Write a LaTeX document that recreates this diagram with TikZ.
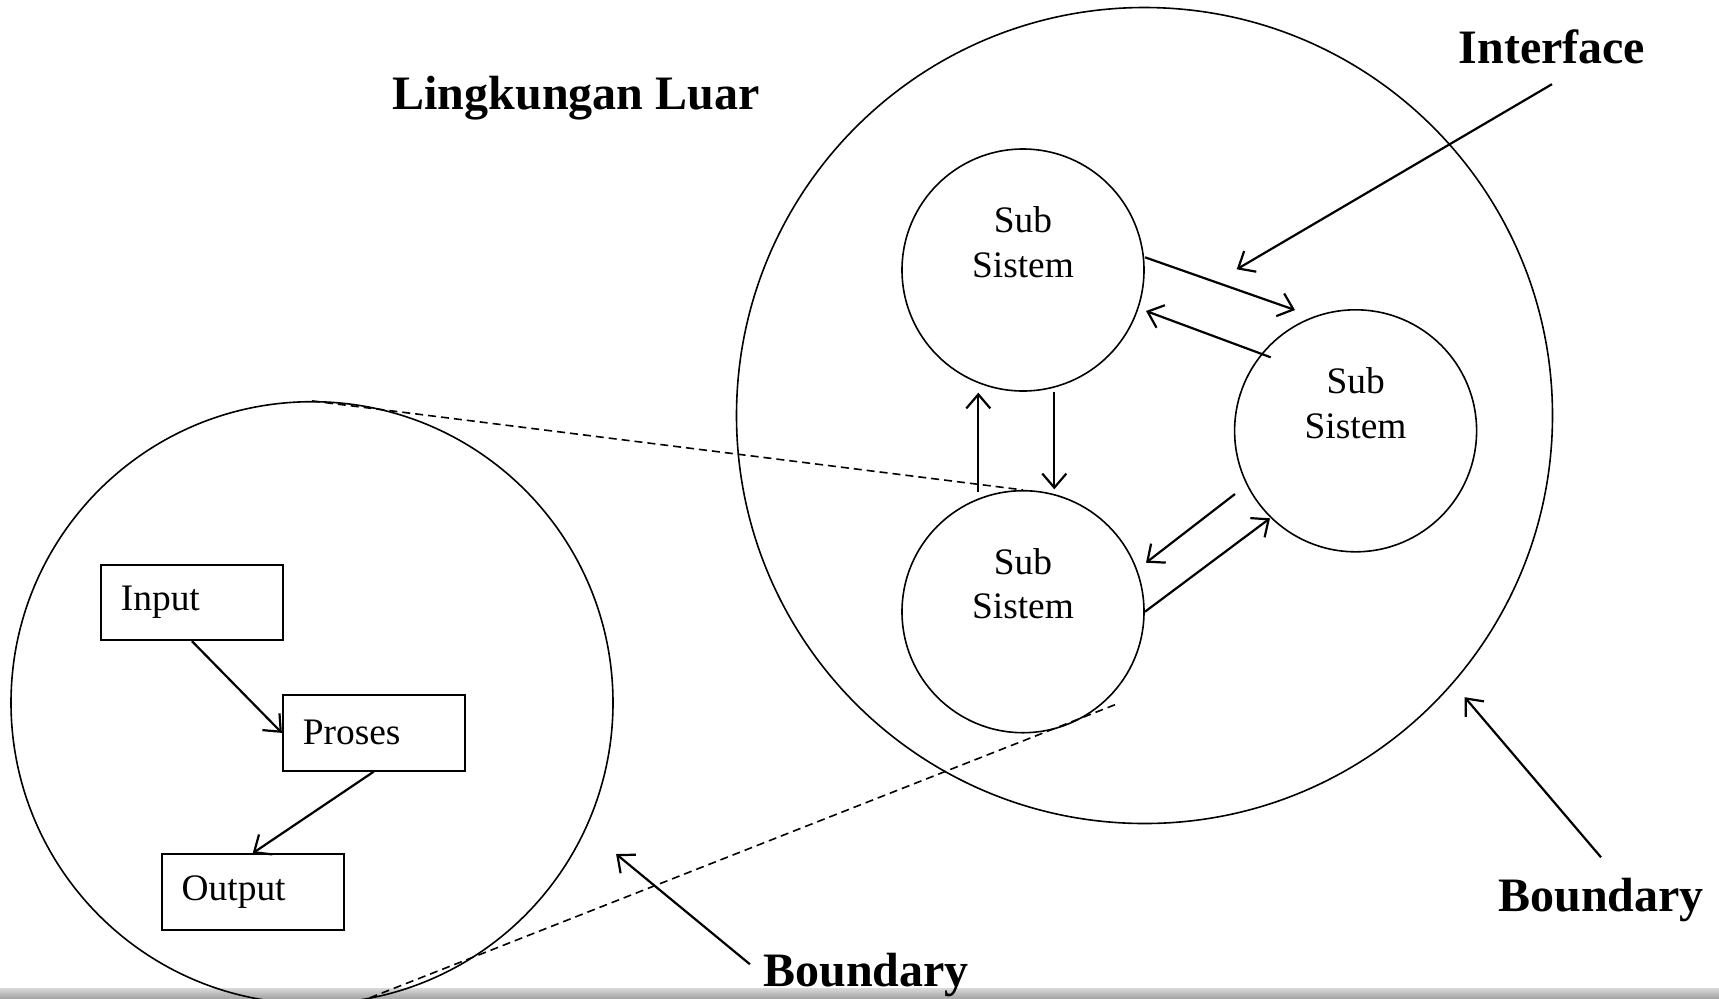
\documentclass[tikz,border=0pt]{standalone}
\usepackage{fontspec}
\setmainfont{Liberation Serif}
\usetikzlibrary{calc,arrows.meta}

\begin{document}
\begin{tikzpicture}[x=0.5pt,y=-0.5pt]
    \tikzstyle{sub}=[circle,draw,line width=0.8pt,minimum size=121pt,inner sep=0pt]
    \tikzstyle{subteks}=[align=center,font=\fontsize{18.7}{22.4}\selectfont]
    \tikzstyle{blok}=[rectangle,draw,line width=0.9pt,minimum width=91pt,minimum height=37.8pt,
        text width=71pt,inner sep=0pt,align=left,font=\fontsize{18.7}{22.4}\selectfont]
    \tikzstyle{judul}=[anchor=base,inner sep=10pt,font=\fontsize{24}{28}\selectfont\bfseries]
    \tikzstyle{panah}=[line width=1.1pt,-{Straight Barb[length=7pt,width=12pt]}]
    \tikzstyle{putus}=[line width=0.8pt,dash pattern=on 4pt off 2.5pt]

    \useasboundingbox (0,0) rectangle (1719,998);
    \shade[top color=gray!30,bottom color=gray!70] (0,988) rectangle (1719,998);

    % sistem besar dan sub sistem
    \node[circle,draw,line width=0.8pt,minimum size=408pt,inner sep=0pt] (sistem) at (1144.5,415.5) {};
    \node[sub,label={[subteks,yshift=14pt]center:{Sub\\Sistem}}] (ss1) at (1023,270) {};
    \node[sub,label={[subteks,yshift=14pt]center:{Sub\\Sistem}}] (ss2) at (1355.6,430.8) {};
    \node[sub,label={[subteks,yshift=14pt]center:{Sub\\Sistem}}] (ss3) at (1023,611.7) {};

    \draw[panah] ($(ss1.center)+(122,-12.7)$) -- ($(ss2.center)+(-60.6,-120.8)$);
    \draw[panah] ($(ss2.center)+(-84.9,-73.5)$) -- ($(ss1.center)+(123,41)$);
    \draw[panah] ($(ss3.center)+(122,0)$) -- ($(ss2.center)+(-85.6,87.5)$);
    \draw[panah] ($(ss2.center)+(-120.6,63.2)$) -- ($(ss3.center)+(123,-49)$);
    \draw[panah] ($(ss3.center)+(-44.7,-120)$) -- ($(ss1.center)+(-44.7,122.7)$);
    \draw[panah] ($(ss1.center)+(31.3,121.7)$) -- ($(ss3.center)+(31.3,-122.4)$);

    % detail sub sistem
    \node[circle,draw,line width=0.8pt,minimum size=301pt,inner sep=0pt] (detail) at (312,702.7) {};
    \node[blok] (input) at (191.9,602.4) {Input};
    \node[blok] (proses) at (373.8,732.9) {Proses};
    \node[blok] (output) at (252.7,891.9) {Output};
    \draw[panah] (input.south) -- (proses.west);
    \draw[panah] (proses.south) -- (output.north);

    \draw[putus] (detail.north) -- (ss3.north);
    \draw[putus] ($(ss3.center)+(92,93)$) -- (detail.-80);

    % keterangan
    \node[judul] (luar) at (576,109.5) {Lingkungan Luar};
    \node[judul] (interface) at (1552,63.3) {Interface};
    \node[judul] (bkanan) at (1601,911) {Boundary};
    \node[judul] (bbawah) at (866,986.7) {Boundary};

    \coordinate (tinterface) at (1236.7,269.3);
    \coordinate (tkanan) at (1464.7,697.2);
    \coordinate (tbawah) at (616.1,854);
    \draw[panah] (interface.south) -- (tinterface);
    \draw[panah] (bkanan.north) -- (tkanan);
    \draw[panah] ($(bbawah.west)+(7,-11)$) -- (tbawah);
\end{tikzpicture}
\end{document}
